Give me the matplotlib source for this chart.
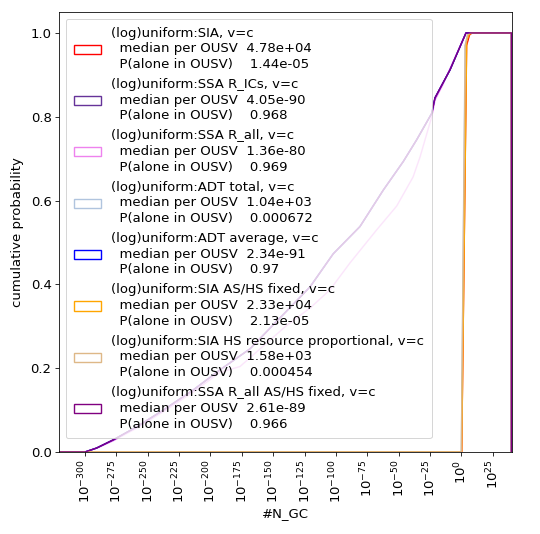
import numpy as np
import matplotlib
matplotlib.use("Agg")
import matplotlib.pyplot as plt
from matplotlib.patches import Patch
from matplotlib.ticker import FixedLocator, FuncFormatter, NullLocator

# ---------------- data ----------------
names = ["SIA", "SSA R_ICs", "SSA R_all", "ADT total", "ADT average",
         "SIA AS/HS fixed", "SIA HS resource proportional", "SSA R_all AS/HS fixed"]
colors = ["red", "rebeccapurple", "violet", "lightsteelblue", "blue",
          "orange", "burlywood", "purple"]
medians = [4.78e+04, 4.05e-90, 1.36e-80, 1.04e+03, 2.34e-91, 2.33e+04, 1.58e+03, 2.61e-89]
p_alone = [1.44e-05, 0.968, 0.969, 0.000672, 0.97, 2.13e-05, 0.000454, 0.966]

# log10 of first / last histogram bin edge
bin_lo, bin_hi = -320.7, 40.0

# cumulative curves: log10(N_GC) and cumulative probability
ssa_logx = [-300.0, -290.7, -277.4, -258.8, -237.6, -213.7, -192.4, -168.5, -120.6,
            -102.1, -80.8, -62.2, -46.3, -35.6, -23.6, -21.0, -9.0, 3.7]
ssa_cdf = [0.0, 0.0095, 0.029, 0.060, 0.100, 0.148, 0.196, 0.246, 0.394,
           0.473, 0.538, 0.625, 0.693, 0.745, 0.808, 0.845, 0.912, 1.0]

violet_logx = [-300.0, -290.7, -277.4, -258.8, -237.6, -213.7, -192.4, -176.4, -140.0,
               -120.0, -104.7, -88.8, -67.5, -51.5, -38.5, -32.9, -23.6, -21.0, -15.0, -9.0, 3.7]
violet_cdf = [0.0, 0.009, 0.027, 0.057, 0.096, 0.143, 0.190, 0.204, 0.300,
              0.345, 0.387, 0.451, 0.530, 0.587, 0.656, 0.704, 0.800, 0.840, 0.875, 0.915, 1.0]

sia_logx = [0.3, 4.2, 6.5, 8.5]
sia_cdf = [0.0, 0.97, 0.995, 1.0]
orange_logx = [0.3, 4.3, 6.0, 8.2]
orange_cdf = [0.0, 0.98, 0.995, 1.0]
tan_logx = [0.0, 3.2, 5.0, 7.0]
tan_cdf = [0.0, 0.97, 0.995, 1.0]
adt_total_logx = [0.0, 3.0, 5.0, 7.0]
adt_total_cdf = [0.0, 0.97, 0.995, 1.0]

curves = [
    (sia_logx, sia_cdf),
    (ssa_logx, ssa_cdf),
    (violet_logx, violet_cdf),
    (adt_total_logx, adt_total_cdf),
    (ssa_logx, ssa_cdf),
    (orange_logx, orange_cdf),
    (tan_logx, tan_cdf),
    (ssa_logx, ssa_cdf),
]

yticks = [0.0, 0.2, 0.4, 0.6, 0.8, 1.0]
xtick_exps = list(range(-300, 26, 25))

# ---------------- figure ----------------
FS = 13.2
plt.rcParams["font.family"] = ["DejaVu Sans"]
plt.rcParams["font.size"] = FS

fig = plt.figure(figsize=(540 / 72, 534 / 72), dpi=72)
ax = fig.add_axes([59 / 540, (534 - 452) / 534, 452.5 / 540, 440 / 534])

handles = []
labels = []
for (lx, cy), c, n, m, p in zip(curves, colors, names, medians, p_alone):
    xs = np.array([bin_lo] + list(lx) + [bin_hi, bin_hi])
    ys = np.array([0.0] + list(cy) + [1.0, 0.0])
    ax.plot(10.0 ** xs, ys, color=c, linewidth=1.4)
    handles.append(Patch(facecolor="none", edgecolor=c, linewidth=1.4))
    labels.append(f"(log)uniform:{n}, v=c\n  median per OUSV  {m:.3g}\n  P(alone in OUSV)    {p:.3g}")

ax.set_xscale("log")
ax.set_xlim(10.0 ** bin_lo, 10.0 ** bin_hi)
ax.set_ylim(0, 1.05)
ax.xaxis.set_major_locator(FixedLocator([10.0 ** e for e in xtick_exps]))
ax.xaxis.set_minor_locator(NullLocator())
ax.xaxis.set_major_formatter(FuncFormatter(lambda v, pos: f"$10^{{{int(round(np.log10(v)))}}}$"))
ax.set_yticks(yticks)
ax.tick_params(axis="x", labelrotation=90)
ax.tick_params(axis="both", length=4, labelsize=FS)

ax.set_xlabel("#N_GC", fontsize=FS)
ax.set_ylabel("cumulative probability", fontsize=FS, labelpad=6)

leg = ax.legend(handles, labels, loc="upper left", fontsize=FS, handlelength=2.1,
                handletextpad=0.75, labelspacing=0.52, borderaxespad=0.5,
                borderpad=0.6, framealpha=0.8)
for t in leg.get_texts():
    t.set_linespacing(1.275)

fig.savefig("out.png", dpi=72)
